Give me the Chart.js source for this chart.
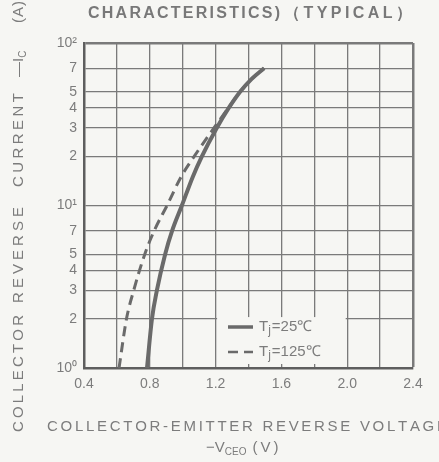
<!DOCTYPE html>
<html><head><meta charset="utf-8">
<script src="https://cdn.jsdelivr.net/npm/chart.js@4.4.1/dist/chart.umd.min.js"></script>
<style>html,body{margin:0;padding:0;background:#f6f6f3;}#wrap{width:439px;height:462px;}</style>
</head><body><div id="wrap"><canvas id="c" width="439" height="462"></canvas></div>
<script>
// ---- data ----
const iSolid = [1, 2, 3, 5, 7, 10, 15, 20, 30, 40, 50, 60, 70];
const vSolid = [0.783, 0.813, 0.843, 0.893, 0.936, 0.995, 1.061, 1.116, 1.207, 1.281, 1.348, 1.418, 1.495];
const iDash  = [1, 2, 3, 5, 7, 10, 15, 20, 30, 40, 50, 60, 70];
const vDash  = [0.613, 0.658, 0.702, 0.769, 0.827, 0.905, 0.990, 1.069, 1.190, 1.279, 1.348, 1.418, 1.495];
const seriesLabels = ['25℃', '125℃'];
const xTicks = [0.4, 0.6, 0.8, 1.0, 1.2, 1.4, 1.6, 1.8, 2.0, 2.2, 2.4];
const xLabelTicks = [0.4, 0.8, 1.2, 1.6, 2.0, 2.4];
const yTicks = [1, 2, 3, 4, 5, 7, 10, 20, 30, 40, 50, 70, 100];
const yTickLabels = {1:'10⁰', 2:'2', 3:'3', 4:'4', 5:'5', 7:'7', 10:'10¹', 20:'2', 30:'3', 40:'4', 50:'5', 70:'7', 100:'10²'};

const GRID = '#7a7a7a', FRAME = '#5e5e5e', CURVE = '#6a6a6a', TXT = '#7c7c7c';
const FONT = '"Liberation Sans", Arial, sans-serif';

function spaced(ctx, text, x, y, width) {
  const ws = [...text].map(c => ctx.measureText(c).width);
  const tot = ws.reduce((a, b) => a + b, 0);
  const gap = text.length > 1 ? (width - tot) / (text.length - 1) : 0;
  let cx = x;
  [...text].forEach((c, i) => { ctx.fillText(c, cx, y); cx += ws[i] + gap; });
}

const decor = {
  id: 'decor',
  beforeDraw(chart) {
    const ctx = chart.ctx;
    ctx.save(); ctx.fillStyle = '#f6f6f3'; ctx.fillRect(0, 0, chart.width, chart.height); ctx.restore();
  },
  beforeDatasetsDraw(chart) {
    const ctx = chart.ctx, x = chart.scales.x, y = chart.scales.y;
    const bx0 = x.getPixelForValue(1.2) + 1.5, bx1 = x.getPixelForValue(2.0) - 1.5;
    const by0 = y.getPixelForValue(2) - 2, by1 = y.getPixelForValue(1) - 4;
    ctx.save(); ctx.fillStyle = '#f6f6f3'; ctx.fillRect(bx0, by0, bx1 - bx0, by1 - by0); ctx.restore();
  },
  afterDraw(chart) {
    const ctx = chart.ctx;
    ctx.save();
    ctx.fillStyle = TXT; ctx.textBaseline = 'middle'; ctx.textAlign = 'left';
    // legend
    const ds = chart.data.datasets;
    const rows = [327, 352];
    rows.forEach((ry, k) => {
      ctx.strokeStyle = ds[k].borderColor; ctx.lineWidth = k === 0 ? 3.5 : 2.5;
      ctx.setLineDash(ds[k].borderDash || []);
      ctx.beginPath(); ctx.moveTo(228, ry); ctx.lineTo(253, ry); ctx.stroke();
      ctx.setLineDash([]);
      ctx.font = '15px ' + FONT;
      ctx.fillText('T', 259, ry);
      let w = ctx.measureText('T').width;
      ctx.font = '12px ' + FONT;
      ctx.fillText('j', 259 + w, ry + 4);
      w += ctx.measureText('j').width + 1;
      ctx.font = '15px ' + FONT;
      ctx.fillText('=' + seriesLabels[k], 259 + w, ry);
    });
    // top title
    ctx.fillStyle = '#787878';
    ctx.font = 'bold 16px ' + FONT;
    spaced(ctx, 'CHARACTERISTICS)', 88, 14, 192);
    spaced(ctx, '（TYPICAL）', 284, 14, 128);
    // x title
    ctx.fillStyle = TXT;
    ctx.font = '15px ' + FONT;
    spaced(ctx, 'COLLECTOR-EMITTER REVERSE VOLTAGE', 47, 427, 400);
    ctx.fillText('−V', 206, 448);
    let xw = 206 + ctx.measureText('−V').width;
    ctx.font = '10px ' + FONT;
    ctx.fillText('CEO', xw, 452);
    xw += ctx.measureText('CEO').width + 6;
    ctx.font = '15px ' + FONT;
    spaced(ctx, '(V)', xw, 448, 26);
    // y title (rotated)
    ctx.translate(19, 0); ctx.rotate(-Math.PI / 2);
    ctx.font = '15px ' + FONT;
    spaced(ctx, 'COLLECTOR', -432, 0, 117);
    spaced(ctx, 'REVERSE', -303, 0, 96);
    spaced(ctx, 'CURRENT', -187, 0, 94);
    ctx.fillText('—I', -77, 0);
    const iw = ctx.measureText('—I').width;
    ctx.font = '10px ' + FONT;
    ctx.fillText('C', -77 + iw, 4);
    ctx.font = '15px ' + FONT;
    spaced(ctx, '(A)', -23, 0, 22);
    ctx.restore();
  }
};

const toPts = (xs, ys) => xs.map((v, i) => ({x: v, y: ys[i]}));

new Chart(document.getElementById('c'), {
  type: 'line',
  data: {
    datasets: [
      {label: 'Tj=' + seriesLabels[0], data: toPts(vSolid, iSolid), borderColor: CURVE, borderWidth: 4, pointRadius: 0, cubicInterpolationMode: 'monotone', fill: false},
      {label: 'Tj=' + seriesLabels[1], data: toPts(vDash, iDash), borderColor: CURVE, borderWidth: 3, borderDash: [10, 6], pointRadius: 0, cubicInterpolationMode: 'monotone', fill: false}
    ]
  },
  options: {
    responsive: false, animation: false, devicePixelRatio: 1,
    layout: {padding: {left: 0, top: 43, right: 26, bottom: 0}},
    plugins: {legend: {display: false}, tooltip: {enabled: false}, title: {display: false}},
    scales: {
      x: {
        type: 'linear', min: 0.4, max: 2.4,
        afterBuildTicks: s => { s.ticks = xTicks.map(v => ({value: v})); },
        afterFit: s => { s.height = 94; },
        ticks: {
          autoSkip: false, maxRotation: 0, padding: 8, color: TXT,
          font: {family: FONT, size: 14},
          callback: v => xLabelTicks.some(t => Math.abs(t - v) < 1e-6) ? v.toFixed(1) : ''
        },
        grid: {color: GRID, lineWidth: c => (c.tick && Math.abs(c.tick.value - 2.4) < 1e-6) ? 2.5 : 1.3, drawTicks: false},
        border: {color: FRAME, width: 2.5}
      },
      y: {
        type: 'logarithmic', min: 1, max: 100,
        afterBuildTicks: s => { s.ticks = yTicks.map(v => ({value: v})); },
        afterFit: s => { s.width = 84; },
        ticks: {
          autoSkip: false, padding: 7, color: TXT,
          font: {family: FONT, size: 14},
          callback: v => yTickLabels[v] || ''
        },
        grid: {color: GRID, lineWidth: c => (c.tick && c.tick.value === 100) ? 2.5 : 1.3, drawTicks: false},
        border: {color: FRAME, width: 2.5}
      }
    }
  },
  plugins: [decor]
});
</script></body></html>
